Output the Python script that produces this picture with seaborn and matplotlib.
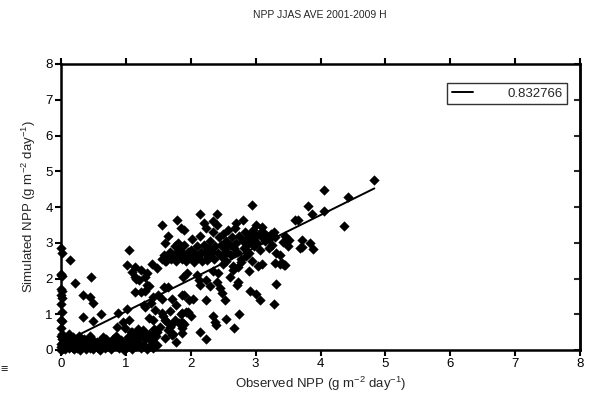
import numpy as np
import pandas as pd
import matplotlib
matplotlib.use("Agg")
import matplotlib.pyplot as plt
import seaborn as sns

title = "NPP JJAS AVE 2001-2009 H"
xlabel = r"Observed NPP (g m$^{-2}$ day$^{-1}$)"
ylabel = r"Simulated NPP (g m$^{-2}$ day$^{-1}$)"
legend_label = "0.832766"
ticks = [0, 1, 2, 3, 4, 5, 6, 7, 8]

# regression line endpoints
fit_x = [0.0, 4.83]
fit_y = [0.18, 4.52]

# scatter points (observed, simulated)
col0 = [(0.00,2.85),(0.01,2.72),(0.00,2.12),(0.02,2.08),(0.00,1.72),(0.01,1.65),(0.00,1.55),
        (0.02,1.45),(0.00,1.30),(0.01,1.05),(0.00,0.85),(0.01,0.80),(0.00,0.62),(0.02,0.45),
        (0.00,0.38),(0.01,0.30),(0.03,0.22),(0.00,0.18),(0.02,0.12),(0.00,0.08),(0.04,0.05),
        (0.01,0.02),(0.00,0.00),(0.05,0.15),(0.06,0.02),(0.02,0.35),(0.00,2.10)]
low_band = [(0.08,0.10),(0.10,0.30),(0.12,0.05),(0.13,0.45),(0.15,0.20),(0.17,0.08),(0.18,0.35),
            (0.20,0.02),(0.22,0.15),(0.24,0.28),(0.25,0.05),(0.27,0.38),(0.28,0.12),(0.30,0.00),
            (0.32,0.22),(0.33,0.08),(0.35,0.32),(0.37,0.15),(0.38,0.02),(0.40,0.25),(0.42,0.10),
            (0.44,0.40),(0.45,0.05),(0.47,0.18),(0.48,0.30),(0.50,0.02),(0.52,0.12),(0.55,0.22),
            (0.57,0.05),(0.58,0.15),(0.60,0.00),(0.62,0.28),(0.64,0.10),(0.66,0.18),(0.68,0.05),
            (0.70,0.32),(0.72,0.12),(0.75,0.22),(0.77,0.02),(0.80,0.30),(0.82,0.10),(0.85,0.38),
            (0.87,0.18),(0.90,0.05),(0.92,0.28),(0.95,0.12),(0.97,0.00),(1.00,0.20),(1.02,0.08),
            (1.04,0.35),(1.06,0.15),(1.08,0.50),(1.10,0.02),(1.12,0.28),(1.14,0.42),(1.16,0.10),
            (1.18,0.60),(1.20,0.20),(1.22,0.38),(1.24,0.05),(1.26,0.50),(1.28,0.15),(1.30,0.30),
            (1.32,0.02),(1.35,0.45),(1.37,0.10),(1.40,0.22),(1.42,0.05),(1.44,0.60),(1.46,0.40),
            (1.48,0.15),(0.86,0.65),(0.99,0.61),(1.09,0.51),(1.14,0.37),(1.27,0.56),(0.95,0.78),
            (1.05,0.85),(0.10,0.12),(0.18,0.05),(0.27,0.18),(0.42,0.28),(0.55,0.08),(0.65,0.35)]
left_iso = [(0.14,2.52),(0.47,2.05),(0.22,1.87),(0.34,1.54),(0.45,1.49),(0.50,1.32),(0.34,0.93),
            (0.50,0.82),(0.62,1.01),(1.01,1.14),(0.88,1.03),(1.05,2.80)]
mid_left = [(1.01,2.38),(1.14,2.33),(1.09,2.19),(1.24,2.24),(1.14,2.05),(1.29,2.05),(1.40,2.41),
            (1.14,1.63),(1.32,1.82),(1.24,1.63),(1.42,1.49),(1.58,1.77),(1.55,1.44),(1.71,1.44),
            (1.88,2.05),(1.45,1.12),(1.45,0.51),(1.55,1.03),(1.60,0.84),(1.68,0.65),(1.76,0.84),
            (1.86,0.61),(1.40,0.28),(1.60,0.33),(1.71,0.42),(1.78,0.23),(1.30,1.20),(1.35,0.90),
            (1.42,0.85),(1.48,0.50),(1.52,0.65),(1.57,0.95),(1.62,0.80),(1.65,0.55),(1.68,1.10),
            (1.70,0.70),(1.72,0.45),(1.78,1.25),(1.82,0.75),(1.85,1.00),(1.90,0.72),(1.92,1.05),
            (1.98,1.40),(2.00,0.95),(1.28,1.25),(1.38,1.32),(1.30,1.65),(1.35,1.80),(1.48,2.30),
            (1.32,2.15),(1.50,1.55),(1.65,1.75),(1.20,1.95),(1.15,1.99)]
band = [(1.55,2.55),(1.58,2.65),(1.60,3.00),(1.62,2.50),(1.65,2.60),(1.68,2.75),(1.70,2.55),
        (1.72,2.65),(1.75,2.90),(1.77,2.50),(1.78,2.70),(1.80,3.00),(1.82,2.60),(1.84,2.80),
        (1.86,2.55),(1.88,2.65),(1.90,2.95),(1.92,2.50),(1.95,2.75),(1.97,2.60),(2.00,2.80),
        (2.02,3.10),(2.05,2.70),(2.07,2.55),(2.10,2.90),(2.12,2.65),(2.14,3.20),(2.16,2.75),
        (2.18,2.50),(2.20,2.95),(2.22,2.70),(2.24,3.40),(2.26,2.60),(2.28,2.85),(2.30,3.05),
        (2.32,2.75),(2.34,3.30),(2.36,2.55),(2.38,2.90),(2.40,3.50),(2.42,2.70),(2.44,3.15),
        (2.46,2.95),(2.48,2.60),(2.50,3.25),(2.52,2.85),(2.54,3.05),(2.56,2.75),(2.58,3.35),
        (2.60,2.95),(2.62,2.65),(2.64,3.15),(2.66,2.85),(2.68,3.40),(2.70,3.00),(2.72,2.75),
        (2.75,3.20),(2.77,2.55),(2.80,3.05),(2.82,2.85),(2.84,3.30),(2.86,2.95),(2.88,3.15),
        (2.90,2.70),(2.92,3.25),(2.94,3.05),(2.96,3.35),(2.98,2.90),(3.00,3.20),(3.02,3.00),
        (3.05,3.25),(3.07,2.80),(3.10,3.15),(3.12,3.30),(3.15,3.05),(3.18,3.20),(3.20,3.10),
        (3.23,3.25),(3.25,2.95),(3.28,3.30),(3.30,3.15),(3.32,2.70),(1.55,3.50),(1.79,3.63),
        (1.90,3.35),(2.15,3.80),(2.40,3.80),(2.80,3.65),(2.95,4.05),(3.65,3.65),(1.65,3.20),
        (1.85,3.40),(2.20,3.55),(2.35,3.60),(2.70,3.55),(3.00,3.50),(3.10,3.45),(1.60,2.48),
        (1.75,2.58),(2.00,2.62),(2.25,2.52),(2.50,2.68),(2.55,2.50),(2.85,2.62),(3.20,2.85)]
below = [(1.94,2.14),(2.12,1.96),(2.14,1.82),(2.24,1.96),(2.42,2.14),(2.45,1.73),(2.48,1.59),
         (2.53,1.40),(2.73,1.91),(2.71,1.82),(2.91,1.66),(3.00,1.56),(3.07,1.40),(3.32,1.86),
         (3.29,1.28),(1.86,1.54),(2.03,1.43),(2.23,1.40),(1.86,1.03),(1.95,1.05),(1.86,0.79),
         (1.86,0.47),(2.15,0.50),(2.23,0.30),(2.35,0.95),(2.37,0.79),(2.39,0.70),(2.55,0.86),
         (2.67,0.62),(2.75,1.01),(2.65,2.24),(2.73,2.33),(2.90,2.22),(3.03,2.35),(3.30,2.42),
         (3.43,2.38),(2.05,2.45),(2.10,2.10),(2.30,1.80),(2.35,2.20),(2.40,1.90),(2.50,2.40),
         (2.60,2.05),(2.65,2.35),(2.78,2.45),(2.95,2.50),(3.10,2.40),(3.38,2.40),(1.90,1.55)]
right_pts = [(3.37,2.65),(3.42,3.02),(3.52,3.08),(3.72,3.08),(3.68,2.84),(3.72,2.89),(3.84,2.98),
             (3.89,2.83),(3.60,3.65),(3.80,4.03),(3.87,3.81),(4.06,3.89),(4.05,4.48),(4.42,4.28),
             (4.36,3.48),(4.83,4.75),(3.45,3.20),(3.50,2.90),(3.40,2.42),(3.45,2.38)]

all_pts = col0 + low_band + left_iso + mid_left + band + below + right_pts
observed = [p[0] for p in all_pts]
simulated = [p[1] for p in all_pts]
df = pd.DataFrame({"observed": observed, "simulated": simulated})

sns.set_style("white")
plt.rcParams["font.family"] = ["Liberation Sans", "DejaVu Sans"]
plt.rcParams["mathtext.fontset"] = "custom"
plt.rcParams["mathtext.rm"] = "Liberation Sans"
plt.rcParams["mathtext.it"] = "Liberation Sans"

fig = plt.figure(figsize=(5.97, 3.97), dpi=100)
ax = fig.add_axes([61/597, 1-350/397, (580-61)/597, (350-64)/397])

sns.scatterplot(data=df, x="observed", y="simulated", marker="D", s=24,
                color="black", edgecolor="black", linewidth=0.3, ax=ax,
                legend=False, clip_on=False, zorder=3)
sns.lineplot(x=fit_x, y=fit_y, color="black", linewidth=1.4, ax=ax,
             label=legend_label, zorder=4)

ax.set_xlim(0, 8)
ax.set_ylim(0, 8)
ax.set_xticks(ticks)
ax.set_yticks(ticks)
ax.set_xticklabels([str(t) for t in ticks], fontsize=9.5)
ax.set_yticklabels([str(t) for t in ticks], fontsize=9.5)
ax.tick_params(axis="x", direction="out", length=4, width=1.5, top=True, bottom=True,
               pad=2, colors="black")
ax.tick_params(axis="y", direction="out", length=4, width=1.5, left=True, right=False,
               pad=2, colors="black")
sec = ax.secondary_yaxis("right")
sec.set_yticks(ticks)
sec.tick_params(direction="in", length=4, width=1.5, labelright=False)
sec.spines["right"].set_linewidth(1.8)
for sp in ax.spines.values():
    sp.set_visible(True)
    sp.set_linewidth(1.8)
    sp.set_color("black")

ax.set_xlabel(xlabel, fontsize=9.5, labelpad=3)
ax.set_ylabel(ylabel, fontsize=9.5, labelpad=5)

leg = ax.legend(loc="upper right", bbox_to_anchor=((567-61)/519, (350-83)/286),
                frameon=True, fancybox=False, fontsize=9.5, handlelength=1.6,
                handletextpad=2.6, borderpad=0.35, borderaxespad=0)
leg.get_frame().set_edgecolor("black")
leg.get_frame().set_linewidth(1.0)

fig.text(320/597, 1-15/397, title, ha="center", va="center", fontsize=7.5)
fig.text(0.0, 1-370/397, "\u2261", ha="left", va="center", fontsize=9, color="#222222")

fig.savefig("out.png", dpi=100)
